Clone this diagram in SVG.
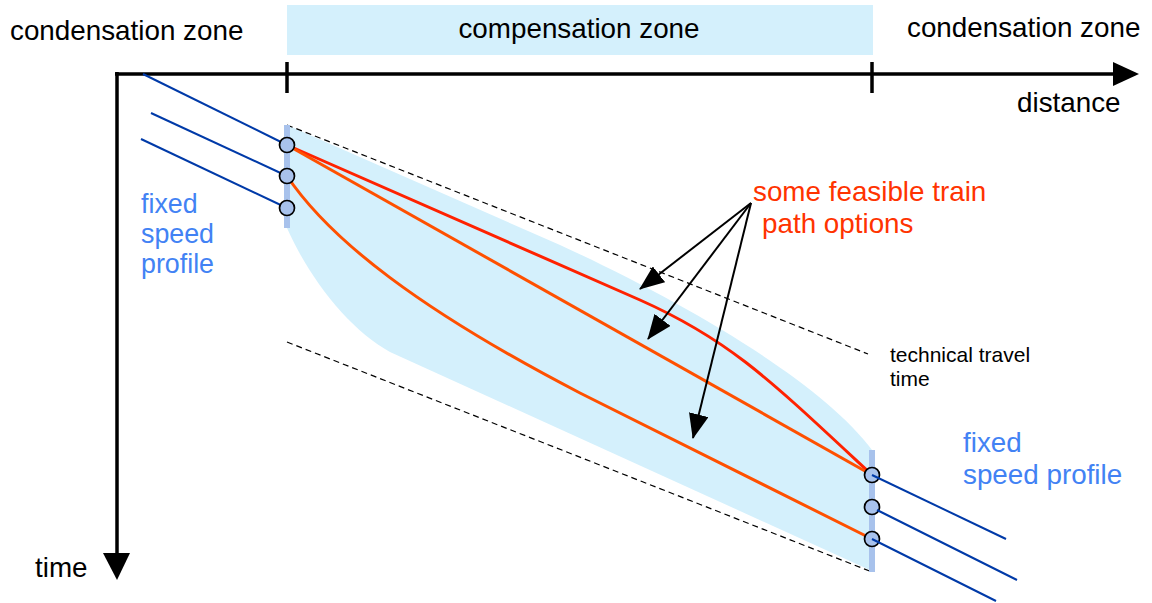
<svg xmlns="http://www.w3.org/2000/svg" width="1152" height="603" viewBox="0 0 1152 603">
<style>
text{font-family:"Liberation Sans",Arial,sans-serif;font-size:27.8px}
.blk{fill:#000}
.blue{fill:#4282f4}
.red{fill:#ff3300}
.axis{stroke:#000;stroke-width:3.5;fill:none}
.dash{stroke:#000;stroke-width:1.2;stroke-dasharray:6 4;fill:none}
.fsp{stroke:#003aa8;stroke-width:2;fill:none}
.bar{stroke:#a8c2ec;stroke-width:6}
.pt{fill:#a8c2ec;stroke:#000;stroke-width:1.7}
.pathA{stroke:#ff2200;stroke-width:3;fill:none}
.pathB{stroke:#ff5000;stroke-width:3;fill:none}
.ptr{stroke:#000;stroke-width:2;fill:none}
</style>
<defs>
<marker id="ah" viewBox="0 0 25 20" refX="24" refY="10" markerWidth="25" markerHeight="20" markerUnits="userSpaceOnUse" orient="auto">
<path d="M0,0 L25,10 L0,20 Z" fill="#000"/>
</marker>
</defs>
<rect width="1152" height="603" fill="#fff"/>

<g id="compensation-zone">
<rect x="287" y="5" width="586" height="50" fill="#d4f0fc"/>
<text x="579" y="38" text-anchor="middle" class="blk">compensation zone</text>
</g>
<g id="condensation-left"><text x="10" y="40" class="blk">condensation zone</text></g>
<g id="condensation-right"><text x="907" y="37" class="blk">condensation zone</text></g>

<g id="feasible-region">
<path d="M287,125 L560,245 C680,300 820,380 872,450 L872,571 L390,352 C350,330 310,280 287,228 Z" fill="#d4f0fc"/>
</g>

<g id="technical-travel-time">
<line x1="287" y1="125" x2="868" y2="354" class="dash"/>
<line x1="287" y1="342" x2="872" y2="572" class="dash"/>
<text x="890" y="362" style="font-size:21px" class="blk">technical travel</text>
<text x="890" y="386" style="font-size:21px" class="blk">time</text>
</g>

<g id="axes">
<line x1="115" y1="74" x2="1115" y2="74" class="axis"/>
<polygon points="1113,62 1139,74 1113,86" fill="#000"/>
<line x1="117" y1="72" x2="117" y2="556" class="axis"/>
<polygon points="103,553 130,553 117,580" fill="#000"/>
<line x1="287" y1="62" x2="287" y2="93" class="axis"/>
<line x1="872" y1="62" x2="872" y2="93" class="axis"/>
<text x="1017" y="112" class="blk">distance</text>
<text x="35" y="577" class="blk">time</text>
</g>

<g id="train-paths">
<path d="M287,145 L640,300 C730,340 770,380 872,475" class="pathA"/>
<path d="M287,145 L872,475" class="pathB"/>
<path d="M287,176 C330,240 420,310 580,393 L872,539" class="pathB"/>
</g>

<g id="left-profile">
<line x1="287" y1="125" x2="287" y2="228" class="bar"/>
<line x1="143" y1="74" x2="287" y2="145" class="fsp"/>
<line x1="151" y1="113" x2="287" y2="176" class="fsp"/>
<line x1="141" y1="139" x2="287" y2="208" class="fsp"/>
<circle cx="287" cy="145" r="7.5" class="pt"/>
<circle cx="287" cy="176" r="7.5" class="pt"/>
<circle cx="287" cy="208" r="7.5" class="pt"/>
<text x="141" y="213" class="blue" style="font-size:26.8px">fixed</text>
<text x="141" y="243" class="blue" style="font-size:26.8px">speed</text>
<text x="141" y="273" class="blue" style="font-size:26.8px">profile</text>
</g>

<g id="right-profile">
<line x1="872" y1="450" x2="872" y2="572" class="bar"/>
<circle cx="872" cy="475" r="7.5" class="pt"/>
<circle cx="872" cy="507" r="7.5" class="pt"/>
<circle cx="872" cy="539" r="7.5" class="pt"/>
<line x1="872" y1="475" x2="1006" y2="539" class="fsp"/>
<line x1="877" y1="510" x2="1017" y2="580" class="fsp"/>
<line x1="872" y1="539" x2="996" y2="601" class="fsp"/>
<text x="963" y="452" class="blue">fixed</text>
<text x="963" y="484" class="blue">speed profile</text>
</g>

<g id="path-options-label">
<text x="753" y="201" class="red">some feasible train</text>
<text x="762" y="233" class="red">path options</text>
</g>

<g id="connectors">
<line x1="751" y1="203" x2="640" y2="289" class="ptr" marker-end="url(#ah)"/>
<line x1="751" y1="203" x2="648" y2="339" class="ptr" marker-end="url(#ah)"/>
<line x1="751" y1="203" x2="693" y2="438" class="ptr" marker-end="url(#ah)"/>
</g>
</svg>
